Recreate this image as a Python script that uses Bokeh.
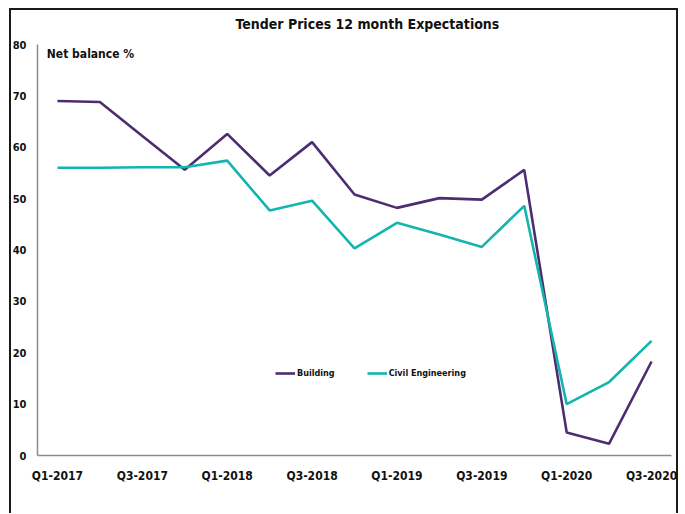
from bokeh.plotting import figure
from bokeh.models import FixedTicker, Label, Legend, LegendItem
from bokeh.embed import file_html
from bokeh.resources import INLINE

quarters = ["Q1-2017", "Q2-2017", "Q3-2017", "Q4-2017",
            "Q1-2018", "Q2-2018", "Q3-2018", "Q4-2018",
            "Q1-2019", "Q2-2019", "Q3-2019", "Q4-2019",
            "Q1-2020", "Q2-2020", "Q3-2020"]
building = [69.0, 68.8, 62.2, 55.6, 62.6, 54.5, 61.0, 50.8, 48.2, 50.1, 49.8, 55.6, 4.5, 2.3, 18.3]
civil = [56.0, 56.0, 56.1, 56.1, 57.4, 47.7, 49.6, 40.3, 45.3, 43.0, 40.6, 48.6, 10.0, 14.3, 22.3]
y_ticks = [0, 10, 20, 30, 40, 50, 60, 70, 80]
title_text = "Tender Prices 12 month Expectations"
unit_text = "Net balance %"

FONT = "Liberation Sans Narrow, Arial Narrow, DejaVu Sans Condensed, sans-serif"
PURPLE = "#4E2C71"
TEAL = "#13B5AE"

xs = list(range(len(quarters)))

p = figure(width=684, height=513, output_backend="svg", toolbar_location=None,
           x_range=(-0.47, len(quarters) - 0.53), y_range=(0, 80),
           min_border_left=37, min_border_right=13, min_border_top=44, min_border_bottom=58)
p.border_fill_color = None
p.styles = {
    "background-image": "linear-gradient(#1a1a1a,#1a1a1a), linear-gradient(#1a1a1a,#1a1a1a), linear-gradient(#1a1a1a,#1a1a1a)",
    "background-position": "9px 8px, 9px 8px, 676px 8px",
    "background-size": "2px 100%, 669px 2px, 2px 100%",
    "background-repeat": "no-repeat",
    "background-color": "white",
}

p.title.text = title_text
p.title.align = "left"
p.title.offset = 198
p.title.standoff = 25
p.title.text_font = FONT
p.title.text_font_size = "14px"
p.title.text_font_style = "bold"
p.title.text_color = "#111111"

p.grid.visible = False
p.outline_line_color = None
p.background_fill_color = "white"

for ax in (p.xaxis[0], p.yaxis[0]):
    ax.axis_line_color = "#8c8c8c"
    ax.axis_line_width = 1.5
    ax.major_tick_line_color = None
    ax.minor_tick_line_color = None
    ax.major_label_text_font = FONT
    ax.major_label_text_font_style = "bold"
    ax.major_label_text_color = "#111111"

p.xaxis.major_label_text_font_size = "12px"
p.yaxis.major_label_text_font_size = "11px"
p.xaxis.ticker = FixedTicker(ticks=xs[::2])
p.xaxis.major_label_overrides = {i: quarters[i] for i in xs[::2]}
p.xaxis.major_label_standoff = 7
p.yaxis.ticker = FixedTicker(ticks=y_ticks)
p.yaxis.major_label_standoff = 5

r1 = p.line(xs, building, line_color=PURPLE, line_width=2.6)
r2 = p.line(xs, civil, line_color=TEAL, line_width=2.6)

legend = Legend(items=[LegendItem(label="Building", renderers=[r1]),
                       LegendItem(label="Civil Engineering", renderers=[r2])],
                orientation="horizontal", location=(238, 76),
                background_fill_alpha=0, border_line_color=None,
                padding=0, margin=0, spacing=32, glyph_width=20, glyph_height=12,
                label_standoff=2, label_text_font=FONT, label_text_font_size="9px",
                label_text_font_style="bold", label_text_color="#111111")
p.add_layout(legend)

p.add_layout(Label(x=-0.25, y=79.5, text=unit_text, text_font=FONT,
                   text_font_size="12px", text_font_style="bold", text_color="#111111",
                   text_baseline="top"))

open("out.html", "w").write(file_html(p, INLINE))
